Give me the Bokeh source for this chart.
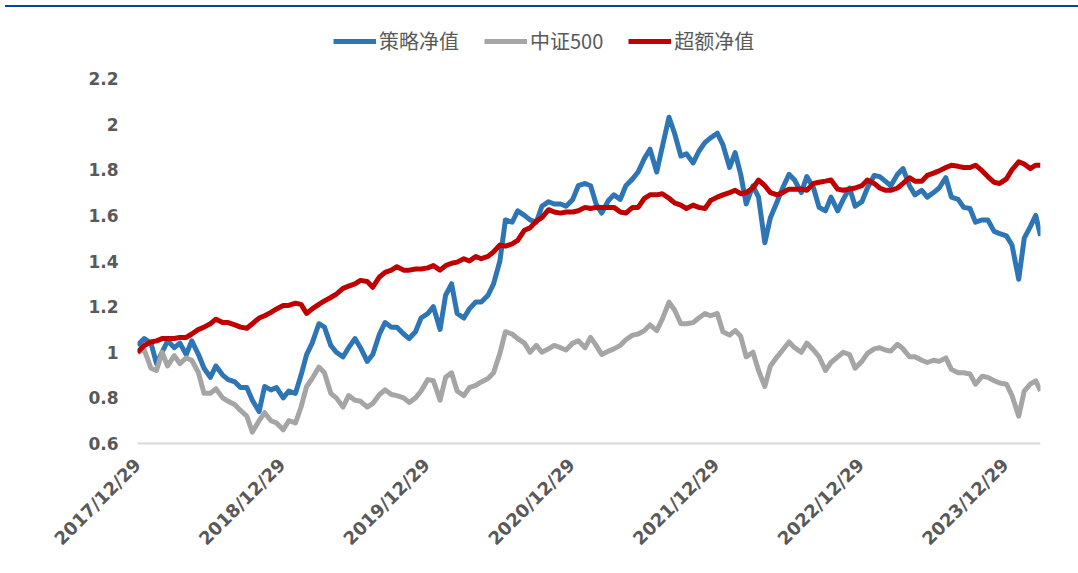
import math
import pandas as pd
from bokeh.plotting import figure
from bokeh.models import (Legend, LegendItem, FixedTicker, DatetimeTickFormatter,
                          NumeralTickFormatter, Range1d, Div)
from bokeh.layouts import column
from bokeh.embed import file_html
from bokeh.resources import INLINE

# ---------------- data ----------------
dates = (["2017-12-29"]
         + pd.date_range("2018-01-15", "2024-03-15", freq="SMS").strftime("%Y-%m-%d").tolist()
         + ["2024-03-27"])

strategy_nav = [
    1.03, 1.06, 1.04, 0.95, 1.00, 1.05, 1.02, 1.04, 0.99, 1.05,
    0.99, 0.93, 0.89, 0.94, 0.90, 0.88, 0.87, 0.845, 0.845, 0.79,
    0.74, 0.85, 0.835, 0.845, 0.80, 0.83, 0.82, 0.90, 0.99, 1.04,
    1.125, 1.11, 1.03, 1.00, 0.98, 1.02, 1.06, 1.02, 0.96, 0.99,
    1.08, 1.13, 1.11, 1.11, 1.08, 1.06, 1.09, 1.15, 1.17, 1.20,
    1.10, 1.25, 1.30, 1.17, 1.15, 1.19, 1.22, 1.22, 1.25, 1.30,
    1.40, 1.58, 1.57, 1.62, 1.60, 1.58, 1.57, 1.64, 1.66, 1.65,
    1.65, 1.64, 1.67, 1.73, 1.74, 1.73, 1.65, 1.61, 1.665, 1.69,
    1.67, 1.73, 1.76, 1.79, 1.85, 1.89, 1.79, 1.90, 2.03, 1.96,
    1.86, 1.87, 1.83, 1.88, 1.92, 1.94, 1.96, 1.91, 1.81, 1.875,
    1.78, 1.65, 1.73, 1.68, 1.48, 1.59, 1.66, 1.72, 1.78, 1.755,
    1.70, 1.77, 1.72, 1.635, 1.62, 1.68, 1.62, 1.67, 1.72, 1.64,
    1.66, 1.72, 1.775, 1.77, 1.75, 1.73, 1.78, 1.805, 1.73, 1.69,
    1.71, 1.68, 1.70, 1.72, 1.765, 1.68, 1.67, 1.635, 1.63, 1.57,
    1.58, 1.58, 1.53, 1.52, 1.51, 1.47, 1.32, 1.50, 1.55, 1.60,
    1.51,
]

csi500 = [
    1.00, 1.01, 0.93, 0.92, 1.00, 0.94, 0.985, 0.95, 0.975, 0.965,
    0.91, 0.82, 0.82, 0.84, 0.80, 0.785, 0.77, 0.745, 0.72, 0.65,
    0.70, 0.735, 0.70, 0.69, 0.66, 0.70, 0.69, 0.76, 0.85, 0.885,
    0.935, 0.91, 0.82, 0.80, 0.76, 0.81, 0.79, 0.785, 0.76, 0.775,
    0.815, 0.835, 0.815, 0.81, 0.80, 0.78, 0.80, 0.83, 0.88, 0.875,
    0.79, 0.89, 0.91, 0.83, 0.81, 0.845, 0.855, 0.87, 0.885, 0.91,
    0.995, 1.09, 1.08, 1.06, 1.04, 1.00, 1.03, 1.00, 1.015, 1.03,
    1.02, 1.01, 1.04, 1.05, 1.02, 1.065, 1.03, 0.99, 1.005, 1.015,
    1.03, 1.055, 1.075, 1.08, 1.095, 1.12, 1.095, 1.145, 1.22, 1.185,
    1.125, 1.125, 1.13, 1.15, 1.17, 1.16, 1.17, 1.09, 1.075, 1.095,
    1.07, 0.98, 1.00, 0.92, 0.85, 0.94, 0.98, 1.01, 1.045, 1.02,
    1.00, 1.04, 1.01, 0.98, 0.92, 0.955, 0.98, 1.00, 0.99, 0.93,
    0.96, 0.995, 1.015, 1.02, 1.01, 1.005, 1.035, 1.015, 0.98, 0.98,
    0.965, 0.955, 0.965, 0.96, 0.975, 0.925, 0.91, 0.91, 0.905, 0.86,
    0.895, 0.89, 0.875, 0.865, 0.86, 0.81, 0.72, 0.83, 0.86, 0.875,
    0.83,
]

excess_nav = [
    1.00, 1.03, 1.045, 1.05, 1.06, 1.06, 1.06, 1.065, 1.065, 1.08,
    1.10, 1.11, 1.125, 1.145, 1.13, 1.13, 1.12, 1.11, 1.105, 1.125,
    1.15, 1.16, 1.175, 1.19, 1.205, 1.205, 1.215, 1.21, 1.17, 1.19,
    1.21, 1.225, 1.24, 1.255, 1.28, 1.29, 1.30, 1.315, 1.31, 1.285,
    1.33, 1.35, 1.36, 1.375, 1.36, 1.36, 1.365, 1.365, 1.37, 1.38,
    1.36, 1.38, 1.39, 1.395, 1.41, 1.40, 1.42, 1.41, 1.42, 1.44,
    1.47, 1.465, 1.475, 1.49, 1.535, 1.545, 1.575, 1.59, 1.625, 1.615,
    1.61, 1.615, 1.615, 1.62, 1.635, 1.63, 1.635, 1.635, 1.635, 1.635,
    1.615, 1.61, 1.635, 1.635, 1.675, 1.69, 1.69, 1.695, 1.675, 1.655,
    1.645, 1.63, 1.645, 1.635, 1.63, 1.665, 1.68, 1.69, 1.70, 1.71,
    1.695, 1.70, 1.72, 1.755, 1.73, 1.70, 1.69, 1.70, 1.715, 1.715,
    1.715, 1.71, 1.74, 1.745, 1.75, 1.755, 1.715, 1.71, 1.715, 1.72,
    1.73, 1.755, 1.74, 1.72, 1.71, 1.71, 1.72, 1.74, 1.765, 1.75,
    1.75, 1.775, 1.785, 1.795, 1.81, 1.82, 1.815, 1.81, 1.81, 1.82,
    1.795, 1.77, 1.745, 1.74, 1.76, 1.80, 1.835, 1.825, 1.805, 1.82,
    1.82,
]

series_names = ["策略净值", "中证500", "超额净值"]
tick_dates = ["2017-12-29", "2018-12-29", "2019-12-29", "2020-12-29",
              "2021-12-29", "2022-12-29", "2023-12-29"]
y_ticks = [0.6, 0.8, 1.0, 1.2, 1.4, 1.6, 1.8, 2.0, 2.2]

# ---------------- figure ----------------
x = pd.to_datetime(dates)
label_color = "#595959"

# frame extends above the top tick (2.2) to host the legend; no axis line / grid / outline
p = figure(width=1062, height=549, x_axis_type="datetime",
           output_backend="svg", toolbar_location=None,
           x_range=Range1d(x[0], x[-1]), y_range=Range1d(0.6, 2.4455),
           min_border_left=137, min_border_right=22,
           min_border_top=10, min_border_bottom=118)
p.outline_line_color = None
p.xgrid.grid_line_color = None
p.ygrid.grid_line_color = None
p.background_fill_color = "white"
p.border_fill_color = "white"

r_blue = p.line(x, strategy_nav, line_color="#2E75B6", line_width=5, line_join="round")
r_gray = p.line(x, csi500, line_color="#A5A5A5", line_width=5, line_join="round")
r_red = p.line(x, excess_nav, line_color="#C00000", line_width=5, line_join="round")

# y axis
p.yaxis.ticker = FixedTicker(ticks=y_ticks)
p.yaxis.formatter = NumeralTickFormatter(format="0.[0]")
p.yaxis.axis_line_color = None
p.yaxis.major_tick_line_color = None
p.yaxis.minor_tick_line_color = None
p.yaxis.major_label_text_font = "DejaVu Sans"
p.yaxis.major_label_text_font_style = "bold"
p.yaxis.major_label_text_font_size = "17px"
p.yaxis.major_label_text_color = label_color
p.yaxis.major_label_standoff = 13

# x axis
tick_ms = [pd.Timestamp(d).timestamp() * 1000 for d in tick_dates]
p.xaxis.ticker = FixedTicker(ticks=tick_ms)
fmt = "%Y/%m/%d"
p.xaxis.formatter = DatetimeTickFormatter(days=fmt, months=fmt, years=fmt,
                                          hours=fmt, minutes=fmt, seconds=fmt,
                                          milliseconds=fmt, microseconds=fmt,
                                          hourmin=fmt, minsec=fmt)
p.xaxis.axis_line_color = "#D9D9D9"
p.xaxis.axis_line_width = 2
p.xaxis.major_tick_line_color = None
p.xaxis.minor_tick_line_color = None
p.xaxis.major_label_orientation = math.pi / 4
p.xaxis.major_label_text_font = "DejaVu Sans"
p.xaxis.major_label_text_font_style = "bold"
p.xaxis.major_label_text_font_size = "18px"
p.xaxis.major_label_text_color = label_color
p.xaxis.major_label_standoff = 12

# legend
legend = Legend(items=[LegendItem(label=series_names[0], renderers=[r_blue]),
                       LegendItem(label=series_names[1], renderers=[r_gray]),
                       LegendItem(label=series_names[2], renderers=[r_red])],
                orientation="horizontal", location=(196, 388))
legend.label_text_font = "Noto Sans CJK SC"
legend.label_text_font_size = "20px"
legend.label_text_color = label_color
legend.glyph_width = 43
legend.glyph_height = 20
legend.label_standoff = 3
legend.spacing = 25
legend.padding = 0
legend.margin = 0
legend.border_line_color = None
legend.background_fill_alpha = 0
p.add_layout(legend, "center")

rule = Div(text="", width=1076, height=2,
           styles={"background-color": "#0A43A0"})

layout = column(rule, p)
open("out.html", "w").write(file_html(layout, INLINE))
